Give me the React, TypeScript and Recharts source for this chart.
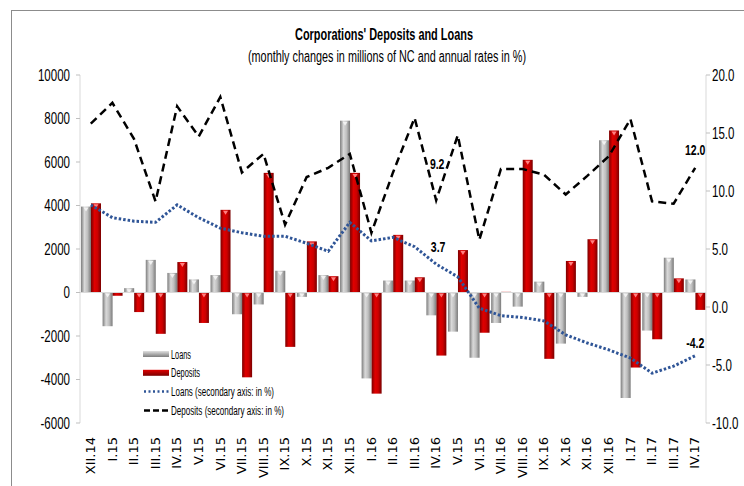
import React from 'react';
import { Bar, ComposedChart, LabelList, Line, ReferenceLine, XAxis, YAxis } from 'recharts';

const months = [
  'XII.14', 'I.15', 'II.15', 'III.15', 'IV.15', 'V.15', 'VI.15', 'VII.15', 'VIII.15', 'IX.15',
  'X.15', 'XI.15', 'XII.15', 'I.16', 'II.16', 'III.16', 'IV.16', 'V.15', 'VI.15', 'VII.16',
  'VIII.16', 'IX.16', 'X.16', 'XI.16', 'XII.16', 'I.17', 'II.17', 'III.17', 'IV.17',
];
const loans = [
  3950, -1550, 200, 1500, 900, 600, 800, -1000, -550, 1000,
  -200, 800, 7900, -3950, 550, 550, -1050, -1800, -3000, -1400,
  -650, 500, -2350, -200, 7000, -4850, -1750, 1600, 600,
];
const deposits = [
  4100, -150, -900, -1900, 1400, -1400, 3800, -3900, 5500, -2500,
  2350, 750, 5500, -4650, 2650, 700, -2900, 1950, -1850, 30,
  6100, -3050, 1450, 2450, 7450, -3450, -2150, 650, -800,
];
const loansRate = [
  8.8, 7.7, 7.4, 7.3, 8.8, 7.7, 6.8, 6.4, 6.1, 6.1,
  5.5, 4.8, 7.3, 5.7, 6.0, 5.2, 3.7, 2.6, -0.1, -0.75,
  -0.9, -1.2, -2.4, -3.1, -3.7, -4.4, -5.7, -5.1, -4.2,
];
const depositsRate = [
  15.8, 17.6, 14.5, 9.1, 17.3, 14.7, 18.1, 11.6, 13.2, 7.1,
  11.2, 12.0, 13.2, 6.4, 11.6, 16.3, 9.2, 14.8, 5.8, 11.9,
  11.9, 11.4, 9.7, 11.3, 13.0, 16.2, 9.1, 8.9, 12.0,
];
const leftTicks = [-6000, -4000, -2000, 0, 2000, 4000, 6000, 8000, 10000];
const rightTicks = [-10, -5, 0, 5, 10, 15, 20];

// points that carry a value label, with the label offset from the point
const loansLabelAt: Record<number, [number, number]> = { 16: [2, -12], 28: [0, -8] };
const depositsLabelAt: Record<number, [number, number]> = { 16: [1, -31], 28: [0, -13] };

const data = months.map((m, i) => ({
  m,
  loans: loans[i],
  deposits: deposits[i],
  loansRate: loansRate[i],
  depositsRate: depositsRate[i],
}));

const FONT = "'Liberation Sans', Arial, sans-serif";
const SQUEEZE = 0.7; // the original uses a condensed face

function NarrowTick(props: any) {
  const { x, y, payload, textAnchor, fmt } = props;
  const label = fmt ? fmt(payload.value) : String(payload.value);
  return (
    <text
      x={x}
      y={y}
      dy="0.36em"
      textAnchor={textAnchor}
      fontSize={16.5}
      fontFamily={FONT}
      fill="#000"
      transform={`translate(${x},0) scale(${SQUEEZE},1) translate(${-x},0)`}
    >
      {label}
    </text>
  );
}

function BevelBar(props: any) {
  const { x, y, width, height, fill, tri } = props;
  const top = Math.min(y, y + height);
  const h = Math.abs(height);
  if (!h) return null;
  const cx = x + width / 2;
  return (
    <g>
      <rect x={x} y={top} width={width} height={h} fill={fill} />
      {h > 4 ? <path d={`M${cx - 2.5},${top + 1} L${cx + 2.5},${top + 1} L${cx},${top + 5} Z`} fill={tri} /> : null}
    </g>
  );
}

function makeLabel(at: Record<number, [number, number]>) {
  return (p: any) => {
    const pos = at[p.index];
    if (!pos) return null;
    const lx = p.x + pos[0];
    return (
      <text x={lx} y={p.y + pos[1]} textAnchor="middle" fontSize={14} fontWeight="bold" fontFamily={FONT} fill="#000"
        transform={`translate(${lx},0) scale(0.75,1) translate(${-lx},0)`}>
        {Number(p.value).toFixed(1)}
      </text>
    );
  };
}

const legendRows = [
  { name: 'Loans', kind: 'gray', len: 20 },
  { name: 'Deposits', kind: 'red', len: 29 },
  { name: 'Loans (secondary axis: in %)', kind: 'dot', len: 103 },
  { name: 'Deposits (secondary axis: in %)', kind: 'dash', len: 113 },
];

function LegendBox() {
  return (
    <svg width={200} height={80} style={{ position: 'absolute', left: 143, top: 345 }}>
      {legendRows.map((r, i) => {
        const cy = 9 + i * 18.8;
        return (
          <g key={r.name}>
            {r.kind === 'gray' ? <rect x={0} y={cy - 3} width={26} height={6} fill="url(#lgGray)" /> : null}
            {r.kind === 'red' ? <rect x={0} y={cy - 3} width={26} height={6} fill="url(#lgRed)" /> : null}
            {r.kind === 'dot' ? <line x1={1} x2={26} y1={cy} y2={cy} stroke="#2f5597" strokeWidth={2.5} strokeDasharray="2 2.5" /> : null}
            {r.kind === 'dash' ? <line x1={1} x2={26} y1={cy} y2={cy} stroke="#000" strokeWidth={2.5} strokeDasharray="6 3" /> : null}
            <text x={28} y={cy + 4.5} fontSize={12.5} fontFamily={FONT} fill="#000" textLength={r.len} lengthAdjust="spacingAndGlyphs">
              {r.name}
            </text>
          </g>
        );
      })}
      <defs>
        <linearGradient id="lgGray" x1="0" y1="0" x2="0" y2="1">
          <stop offset="0" stopColor="#e0e0e0" />
          <stop offset="1" stopColor="#7d7d7d" />
        </linearGradient>
        <linearGradient id="lgRed" x1="0" y1="0" x2="0" y2="1">
          <stop offset="0" stopColor="#e00000" />
          <stop offset="1" stopColor="#7a0000" />
        </linearGradient>
      </defs>
    </svg>
  );
}

export default function App() {
  return (
    <div style={{ position: 'absolute', left: 0, top: 0, width: 744, height: 486, overflow: 'hidden', background: '#fff' }}>
      <div style={{ position: 'absolute', left: 11, top: 10, width: 900, height: 700, border: '1.5px solid #8c8c8c' }} />
      <div style={{ position: 'absolute', left: 0, top: 0 }}>
        <ComposedChart width={744} height={486} data={data} margin={{ top: 75, right: 0, bottom: 0, left: 0 }} barGap={0} barSize={10}>
          <defs>
            <linearGradient id="gGray" x1="0" y1="0" x2="1" y2="0">
              <stop offset="0" stopColor="#7d7d7d" />
              <stop offset="0.35" stopColor="#d9d9d9" />
              <stop offset="0.65" stopColor="#bfbfbf" />
              <stop offset="1" stopColor="#7a7a7a" />
            </linearGradient>
            <linearGradient id="gRed" x1="0" y1="0" x2="1" y2="0">
              <stop offset="0" stopColor="#7a0000" />
              <stop offset="0.35" stopColor="#e00000" />
              <stop offset="0.65" stopColor="#cc0000" />
              <stop offset="1" stopColor="#7a0000" />
            </linearGradient>
          </defs>
          <text x={384} y={40} textAnchor="middle" fontSize={16} fontWeight="bold" fontFamily={FONT} fill="#000"
            textLength={178} lengthAdjust="spacingAndGlyphs">
            Corporations' Deposits and Loans
          </text>
          <text x={387} y={62} textAnchor="middle" fontSize={16} fontFamily={FONT} fill="#000"
            textLength={278} lengthAdjust="spacingAndGlyphs">
            (monthly changes in millions of NC and annual rates in %)
          </text>
          <XAxis
            dataKey="m"
            interval={0}
            height={63}
            axisLine={false}
            tickLine={false}
            angle={-90}
            textAnchor="end"
            tickMargin={8}
            tick={{ fontSize: 13, fill: '#000', fontFamily: "'DejaVu Sans', Verdana, sans-serif", dx: -5 }}
          />
          <YAxis
            yAxisId="l"
            width={80}
            domain={[-6000, 10000]}
            ticks={leftTicks}
            interval={0}
            axisLine={{ stroke: '#d9d9d9' }}
            tickLine={{ stroke: '#bfbfbf' }}
            tickSize={4}
            tickMargin={6}
            tick={<NarrowTick />}
          />
          <YAxis
            yAxisId="r"
            orientation="right"
            width={38}
            domain={[-10, 20]}
            ticks={rightTicks}
            interval={0}
            axisLine={{ stroke: '#d9d9d9' }}
            tickLine={{ stroke: '#bfbfbf' }}
            tickSize={4}
            tick={<NarrowTick fmt={(v: number) => v.toFixed(1)} />}
          />
          <ReferenceLine yAxisId="l" y={0} stroke="#d9d9d9" />
          <Bar yAxisId="l" dataKey="loans" name="Loans" fill="url(#gGray)" isAnimationActive={false}
            shape={(p: any) => <BevelBar {...p} fill="url(#gGray)" tri="#f2f2f2" />} />
          <Bar yAxisId="l" dataKey="deposits" name="Deposits" fill="url(#gRed)" isAnimationActive={false}
            shape={(p: any) => <BevelBar {...p} fill="url(#gRed)" tri="#ff8080" />} />
          <Line yAxisId="r" dataKey="loansRate" name="Loans (secondary axis: in %)" stroke="#2f5597" strokeWidth={3}
            strokeDasharray="2.5 2" dot={false} activeDot={false} isAnimationActive={false}>
            <LabelList dataKey="loansRate" content={makeLabel(loansLabelAt)} />
          </Line>
          <Line yAxisId="r" dataKey="depositsRate" name="Deposits (secondary axis: in %)" stroke="#000" strokeWidth={2.5}
            strokeDasharray="8 5" dot={false} activeDot={false} isAnimationActive={false}>
            <LabelList dataKey="depositsRate" content={makeLabel(depositsLabelAt)} />
          </Line>
        </ComposedChart>
      </div>
      <LegendBox />
    </div>
  );
}
